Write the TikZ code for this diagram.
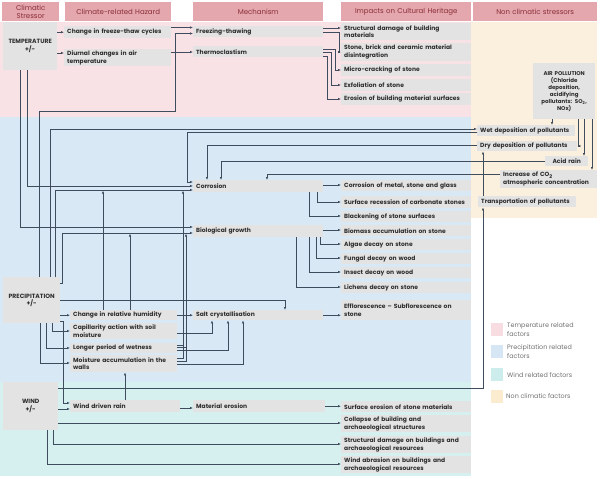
\documentclass[tikz,border=0pt]{standalone}
\usepackage{fontspec}
\setmainfont{Poppins}
\usetikzlibrary{arrows.meta}
\definecolor{pinkbg}{HTML}{F9E2E5}
\definecolor{bluebg}{HTML}{D9E8F5}
\definecolor{tealbg}{HTML}{D6F0EF}
\definecolor{beigebg}{HTML}{FBF0DD}
\definecolor{boxgray}{HTML}{E3E3E3}
\definecolor{headfill}{HTML}{E3A7AD}
\definecolor{headtext}{HTML}{8B2D37}
\definecolor{linecol}{HTML}{3E4C5E}
\definecolor{txt}{HTML}{2E2E2E}
\definecolor{legtext}{HTML}{707070}
\definecolor{pinkleg}{HTML}{F7DDE1}
\definecolor{blueleg}{HTML}{D7E6F4}
\definecolor{tealleg}{HTML}{CDEDEC}
\definecolor{beigeleg}{HTML}{FBEBCF}
\tikzset{
  boxbase/.style={fill=boxgray, anchor=north west, inner xsep=3pt, inner ysep=0pt,
    font=\fontsize{6}{7.6}\selectfont\bfseries, text=txt, align=left},
  hzU/.style={boxbase, text width=101pt},
  hzL/.style={boxbase, text width=101pt},
  mech/.style={boxbase, text width=124pt},
  imp/.style={boxbase, text width=124pt},
  nc/.style={boxbase},
  st/.style={boxbase, inner xsep=0pt, align=center, font=\fontsize{6.1}{7.6}\selectfont\bfseries},
  hd/.style={fill=headfill, text=headtext, anchor=north west, inner sep=0pt,
    minimum height=19pt, align=center, font=\fontsize{7}{8}\selectfont},
  legbox/.style={anchor=north west, inner sep=0pt, minimum width=12pt, minimum height=13pt},
  legtxt/.style={anchor=west, inner sep=0pt, align=left, text=legtext,
    font=\fontsize{6.4}{8.6}\selectfont},
  ln/.style={draw=linecol, line width=0.55pt},
  arr/.style={ln, -{Latex[length=3pt,width=2.4pt]}},
}
\begin{document}
\begin{tikzpicture}[x=1pt,y=-1pt]
\useasboundingbox (0,0) rectangle (600,479);
% background bands
\fill[pinkbg] (0,22) rectangle (471,117);
\fill[bluebg] (0,117) rectangle (471,382);
\fill[tealbg] (0,382) rectangle (471,476);
\fill[beigebg] (471,22) rectangle (597,218);
% headers
\node[hd, text width=57pt] (hA) at (2,2) {Climatic\\Stressor};
\node[hd, text width=106pt] (hB) at (65,2) {Climate-related Hazard};
\node[hd, text width=130pt] (hC) at (193,2) {Mechanism};
\node[hd, text width=130pt] (hD) at (341,2) {Impacts on Cultural Heritage};
\node[hd, text width=124pt] (hE) at (473,2) {Non climatic stressors};
% stressors
\node[st, text width=54pt, minimum height=48pt] (sT) at (3,22) {TEMPERATURE\\+/-};
\node[st, text width=57pt, minimum height=46pt] (sP) at (3,277) {PRECIPITATION\\+/-};
\node[st, text width=55pt, minimum height=48pt] (sW) at (3,382) {WIND\\+/-};
% hazards
\node[hzU, minimum height=12pt] (z1) at (64,26) {Change in freeze-thaw cycles};
\node[hzU, minimum height=17pt] (z2) at (64,49) {Diurnal changes in air\\temperature};
\node[hzL, minimum height=10pt] (z3) at (70,310) {Change in relative humidity};
\node[hzL, minimum height=16pt] (z4) at (70,323) {Capillarity action with soil\\moisture};
\node[hzL, minimum height=10pt] (z5) at (70,343) {Longer period of wetness};
\node[hzL, minimum height=17pt] (z6) at (70,355) {Moisture accumulation in the\\walls};
\node[hzL, minimum height=12pt, text width=104pt] (z7) at (70,400) {Wind driven rain};
% mechanisms
\node[mech, minimum height=11pt] (m1) at (193,26) {Freezing-thawing};
\node[mech, minimum height=11pt] (m2) at (193,46) {Thermoclastism};
\node[mech, minimum height=12pt] (m3) at (193,180) {Corrosion};
\node[mech, minimum height=12pt] (m4) at (193,225) {Biological growth};
\node[mech, minimum height=10pt] (m5) at (193,310) {Salt crystallisation};
\node[mech, minimum height=12pt, text width=126pt] (m6) at (193,400) {Material erosion};
% impacts
\node[imp, minimum height=17pt] (i1) at (341,23) {Structural damage of building\\materials};
\node[imp, minimum height=18pt] (i2) at (341,43) {Stone, brick and ceramic material\\disintegration};
\node[imp, minimum height=12pt] (i3) at (341,64) {Micro-cracking of stone};
\node[imp, minimum height=12pt] (i4) at (341,79) {Exfoliation of stone};
\node[imp, minimum height=12pt] (i5) at (341,93) {Erosion of building material surfaces};
\node[imp, minimum height=11pt] (i6) at (341,180) {Corrosion of metal, stone and glass};
\node[imp, minimum height=12pt] (i7) at (341,196) {Surface recession of carbonate stones};
\node[imp, minimum height=11pt] (i8) at (341,211) {Blackening of stone surfaces};
\node[imp, minimum height=11pt] (i9) at (341,225) {Biomass accumulation on stone};
\node[imp, minimum height=11pt] (i10) at (341,239) {Algae decay on stone};
\node[imp, minimum height=11pt] (i11) at (341,253) {Fungal decay on wood};
\node[imp, minimum height=11pt] (i12) at (341,267) {Insect decay on wood};
\node[imp, minimum height=11pt] (i13) at (341,282) {Lichens decay on stone};
\node[imp, minimum height=20pt] (i14) at (341,300) {Efflorescence -- Subflorescence on\\stone};
\node[imp, minimum height=11pt] (i15) at (341,401) {Surface erosion of stone materials};
\node[imp, minimum height=17pt] (i16) at (341,415) {Collapse of building and\\archaeological structures};
\node[imp, minimum height=17pt] (i17) at (341,436) {Structural damage on buildings and\\archaeological resources};
\node[imp, minimum height=17pt] (i18) at (341,456) {Wind abrasion on buildings and\\archaeological resources};
% non climatic
\node[st, text width=62pt, minimum height=56pt, font=\fontsize{5.5}{7}\selectfont\bfseries] (n0) at (533,63) {AIR POLLUTION\\(Chloride\\deposition,\\acidifying\\pollutants: SO\textsubscript{2},\\NOx)};
\node[nc, text width=92pt, minimum height=11pt] (n1) at (477,125) {Wet deposition of pollutants};
\node[nc, text width=94pt, minimum height=10pt] (n2) at (477,141) {Dry deposition of pollutants};
\node[nc, text width=37pt, minimum height=10pt, align=center] (n3) at (545,156) {Acid rain};
\node[nc, text width=91pt, minimum height=18pt] (n4) at (500,170) {Increase of CO\textsubscript{2}\\atmospheric concentration};
\node[nc, text width=92pt, minimum height=11pt] (n5) at (478,196) {Transportation of pollutants};
% legend
\node[legbox, fill=pinkleg] (l1) at (491,323) {};
\node[legbox, fill=blueleg] (l2) at (491,345) {};
\node[legbox, fill=tealleg] (l3) at (491,368) {};
\node[legbox, fill=beigeleg] (l4) at (491,390) {};
\node[legtxt] (t1) at (507,329.5) {Temperature related\\factors};
\node[legtxt] (t2) at (507,351.5) {Precipitation related\\factors};
\node[legtxt] (t3) at (507,375) {Wind related factors};
\node[legtxt] (t4) at (506,396) {Non climatic factors};
% ---- connectors: temperature
\draw[arr] (sT.east |- z1.west) -- (z1.west);
\draw[arr] (sT.east |- 0,53) -- (z2.west |- 0,53);
\draw[arr] (z1.east |- 0,27.5) -- (m1.west |- 0,27.5);
\draw[arr] (z2.east |- 0,52) -- (m2.west |- 0,52);
\draw[arr] (m1.east |- 0,28) -- (i1.west |- 0,28);
\draw[arr] (m1.east |- 0,32) -- (339,32) -- (339,52) -- (i2.west |- 0,52);
\draw[arr] (m2.east |- 0,49) -- (335,49) -- (335,70) -- (i3.west |- 0,70);
\draw[arr] (m2.east |- 0,52.5) -- (331,52.5) -- (331,85) -- (i4.west |- 0,85);
\draw[arr] (m2.east |- 0,56) -- (327,56) -- (327,99) -- (i5.west |- 0,99);
\draw[arr] (sT.south -| 27,0) -- (27,186) -- (m3.west |- 0,186);
\draw[arr] (sT.south -| 20,0) -- (20,227) -- (m4.west |- 0,227);
% ---- precipitation
\draw[arr] (sP.north -| 39,0) -- (39,111) -- (175,111) -- (175,33.5) -- (m1.west |- 0,33.5);
\draw[arr] (sP.north -| 50,0) -- (50,129) -- (n1.west |- 0,129);
\draw[arr] (n1.west |- 0,132) -- (187,132) -- (187,182) -- (m3.west |- 0,182);
\draw[arr] (sP.north -| 55,0) -- (55,190) -- (m3.west |- 0,190);
\draw[arr] (sP.east |- 0,283) -- (62,283) -- (62,233) -- (m4.west |- 0,233);
\draw[arr] (sP.east |- 0,300) -- (285,300) -- (m5.north -| 285,0);
\draw[arr] (sP.east |- z3.west) -- (z3.west);
\draw[arr] (sP.south -| 52,0) -- (52,331) -- (z4.west |- 0,331);
\draw[arr] (sP.south -| 46,0) -- (46,348) -- (z5.west |- 0,348);
\draw[arr] (sP.south -| 40,0) -- (40,363) -- (z6.west |- 0,363);
\draw[arr] (sP.east |- 0,321) -- (63,321) -- (63,403) -- (z7.west |- 0,403);
\coordinate (jc1) at (103,190.6);
\coordinate (jc2) at (130,233.6);
\coordinate (jc3) at (183,190.6);
\coordinate (jc4) at (186,233.6);
\draw[arr] (z3.north -| jc1) -- (jc1);
\draw[arr] (z3.north -| jc2) -- (jc2);
\draw[arr] (z6.east |- 0,358) -- (183,358) -- (jc3);
\draw[ln] (z5.east |- 0,345) -- (183,345);
\draw[arr] (z6.east |- 0,361) -- (186,361) -- (jc4);
\draw[ln] (z5.east |- 0,347.5) -- (186,347.5);
\draw[arr] (z5.east |- 0,350) -- (228,350) -- (m5.south -| 228,0);
\draw[arr] (z6.east |- 0,364) -- (243,364) -- (m5.south -| 243,0);
\draw[arr] (z4.east |- 0,333) -- (212,333) -- (m5.south -| 212,0);
\draw[arr] (z3.east) -- (m5.west);
% ---- wind
\draw[arr] (sW.east |- 0,409) -- (z7.west |- 0,409);
\draw[arr] (sW.east |- 0,388) -- (483,388) -- (n5.south -| 483,0);
\draw[arr] (sW.east |- 0,423) -- (i16.west |- 0,423);
\draw[arr] (sW.south -| 53,0) -- (53,444) -- (i17.west |- 0,444);
\draw[arr] (sW.south -| 47,0) -- (47,464) -- (i18.west |- 0,464);
\draw[arr] (z7.north -| 125,0) -- (z6.south -| 125,0);
\draw[arr] (z7.east |- 0,408) -- (m6.west |- 0,408);
\draw[arr] (m6.east) -- (i15.west |- m6.east);
% ---- non climatic
\draw[arr] (n5.north -| 483,0) -- (n2.south -| 483,0);
\draw[arr] (n0.south -| 552,0) -- (n1.north -| 552,0);
\draw[arr] (n0.south -| 578,0) -- (578,146) -- (n2.east |- 0,146);
\draw[arr] (n0.south -| 584,0) -- (n3.north -| 584,0);
\draw[arr] (n0.south -| 592,0) -- (n4.north -| 592,0);
\draw[arr] (n2.west |- 0,145) -- (207,145) -- (m3.north -| 207,0);
\draw[arr] (n3.west |- 0,161) -- (221,161) -- (m3.north -| 221,0);
\draw[arr] (n4.west |- 0,174) -- (267,174) -- (m3.north -| 267,0);
% ---- mechanisms to impacts
\draw[arr] (m3.east |- 0,185) -- (i6.west |- 0,185);
\draw[arr] (m3.south -| 317,0) -- (317,202) -- (i7.west |- 0,202);
\draw[arr] (m3.south -| 309,0) -- (309,216) -- (i8.west |- 0,216);
\draw[arr] (m4.east |- 0,230) -- (i9.west |- 0,230);
\draw[arr] (m4.south -| 320,0) -- (320,244) -- (i10.west |- 0,244);
\draw[arr] (m4.south -| 316,0) -- (316,258) -- (i11.west |- 0,258);
\draw[arr] (m4.south -| 309,0) -- (309,272) -- (i12.west |- 0,272);
\draw[arr] (m4.south -| 296,0) -- (296,287) -- (i13.west |- 0,287);
\draw[arr] (m5.east) -- (i14.west |- m5.east);
\end{tikzpicture}
\end{document}
